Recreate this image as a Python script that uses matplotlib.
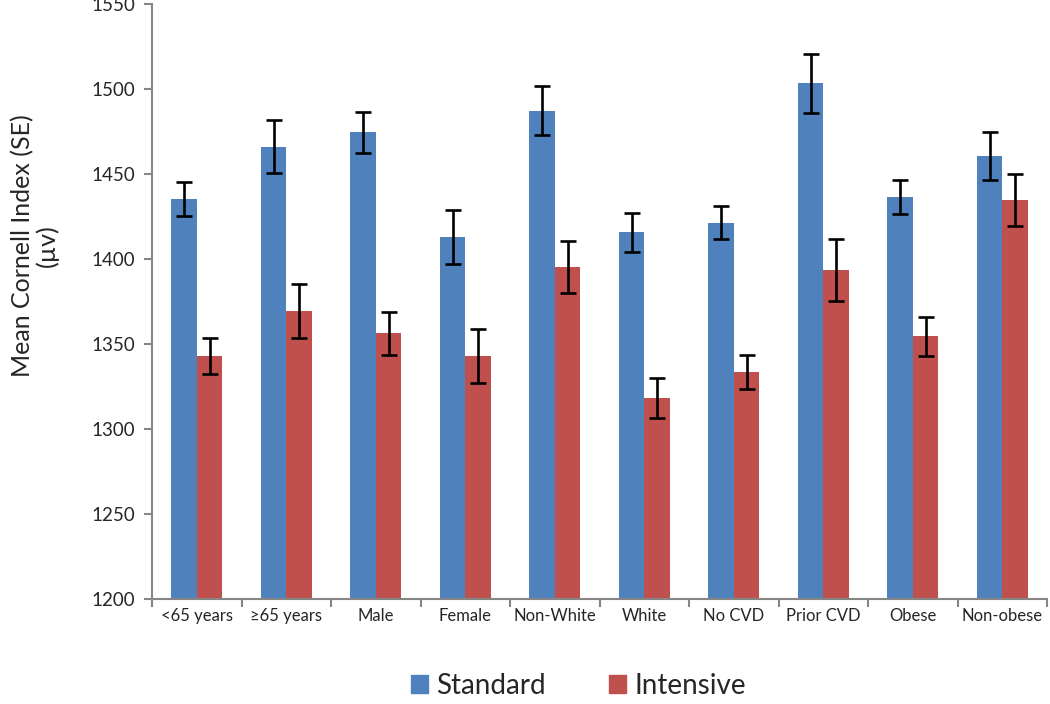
import numpy as np
import matplotlib
matplotlib.use('Agg')
import matplotlib.pyplot as plt
from matplotlib.patches import Patch

categories = ['<65 years', '\u226565 years', 'Male', 'Female', 'Non-White',
              'White', 'No CVD', 'Prior CVD', 'Obese', 'Non-obese']
standard = [1435.6, 1466.3, 1474.6, 1413.3, 1487.4, 1416.0, 1421.6, 1503.5, 1436.8, 1460.7]
standard_se = [10.0, 15.5, 12.2, 15.8, 14.4, 11.5, 9.6, 17.3, 10.0, 14.0]
intensive = [1343.0, 1369.7, 1356.6, 1343.0, 1395.6, 1318.5, 1333.8, 1393.6, 1354.6, 1434.8]
intensive_se = [10.5, 15.8, 12.6, 16.0, 15.2, 11.8, 10.0, 18.2, 11.3, 15.2]

plt.rcParams['font.family'] = ['Lato', 'DejaVu Sans']

blue = '#4F81BD'
red = '#C0504D'
grey = '#868686'
txt = '#262626'

fig = plt.figure(figsize=(10.5, 7.04), dpi=100)
ax = fig.add_axes([0.1448, 0.1487, 0.8524, 0.8452])

x = np.arange(len(categories))
w = 0.285
errkw = dict(ecolor='black', elinewidth=1.9, capsize=5.8, capthick=1.9)
ax.bar(x - w / 2, np.array(standard) - 1200, w, bottom=1200, color=blue,
       yerr=standard_se, error_kw=errkw, label='Standard')
ax.bar(x + w / 2, np.array(intensive) - 1200, w, bottom=1200, color=red,
       yerr=intensive_se, error_kw=errkw, label='Intensive')

ax.set_xlim(-0.5, len(categories) - 0.5)
ax.set_ylim(1200, 1550)
ax.set_yticks(np.arange(1200, 1551, 50))

# category boundary ticks on x axis
ax.set_xticks(np.arange(len(categories) + 1) - 0.5)
ax.set_xticklabels([])
ax.set_xticks(x, minor=True)
ax.set_xticklabels(categories, minor=True, fontsize=12, color=txt)
ax.tick_params(axis='x', which='minor', length=0, pad=6)
ax.tick_params(axis='x', which='major', length=6, width=1.5, color=grey)
ax.tick_params(axis='y', length=6, width=1.5, color=grey, labelsize=13.5,
               labelcolor=txt, pad=6)

for s in ['top', 'right']:
    ax.spines[s].set_visible(False)
for s in ['left', 'bottom']:
    ax.spines[s].set_color(grey)
    ax.spines[s].set_linewidth(1.5)

ax.set_ylabel('Mean Cornell Index (SE)\n(\u00b5v)', fontsize=18, color=txt,
              linespacing=1.05)
ax.yaxis.set_label_coords(-0.104, 0.595)

handles = [Patch(color=blue, label='Standard'), Patch(color=red, label='Intensive')]
fig.legend(handles=handles, loc='center', bbox_to_anchor=(0.551, 0.026), ncol=2,
           frameon=False, fontsize=20, handlelength=0.6, handleheight=0.6,
           handletextpad=0.3, columnspacing=2.3, labelcolor=txt)

fig.savefig('out.png', dpi=100)
